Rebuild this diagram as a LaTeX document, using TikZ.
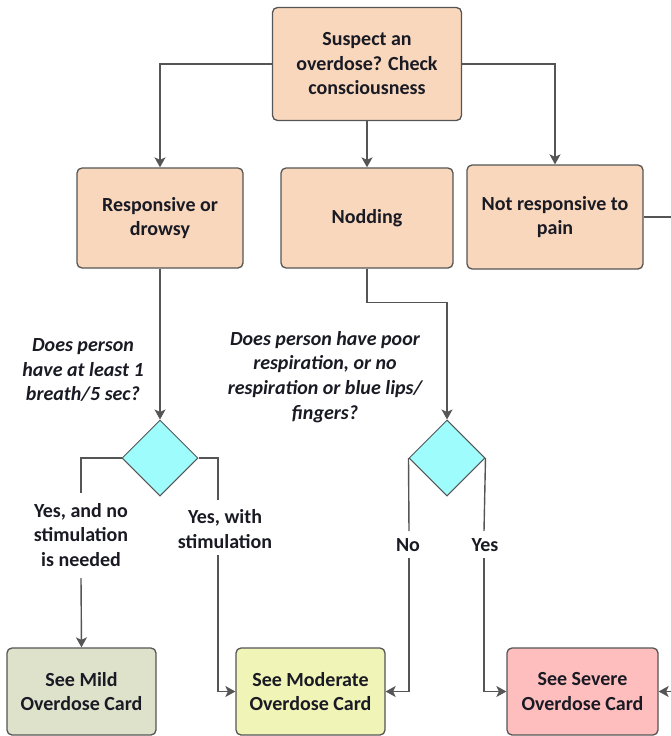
\documentclass[tikz,border=0pt]{standalone}
\usepackage{fontspec}
\setmainfont{Carlito}
\usepackage{xcolor}
\usetikzlibrary{arrows.meta,shapes.geometric,positioning,calc}
\definecolor{peach}{HTML}{F8D7BC}
\definecolor{mildfill}{HTML}{DEE2CB}
\definecolor{modfill}{HTML}{F1F4B7}
\definecolor{sevfill}{HTML}{FFBEBE}
\definecolor{aqua}{HTML}{9FFCFC}
\definecolor{edge}{HTML}{555555}
\definecolor{ink}{HTML}{1A1A24}
\tikzset{>={Stealth[length=10pt,width=11pt,inset=2.5pt]}}
\tikzset{
  stage/.style={draw=edge, line width=1.3pt, rounded corners=5pt, fill=peach, align=center,
    text=ink, font=\fontsize{20}{24.5}\selectfont\bfseries, inner sep=0pt},
  card/.style={stage, minimum width=150pt, minimum height=87pt},
  check/.style={diamond, draw=edge, line width=1pt, fill=aqua, minimum width=76pt,
    minimum height=76pt, inner sep=0pt},
  ask/.style={align=center, text=ink, font=\fontsize{20}{24.8}\selectfont\bfseries\itshape},
  answer/.style={align=center, text=ink, font=\fontsize{20}{24.5}\selectfont\bfseries},
  wire/.style={draw=edge, line width=1.4pt},
}

\begin{document}
\begin{tikzpicture}[x=1pt,y=-1pt]
\useasboundingbox (0,0) rectangle (671,736);
% level 1 and 2
\node[stage, minimum width=189pt, minimum height=113pt] (start) at (367,64) {Suspect an\\overdose? Check\\consciousness};
\node[stage, minimum width=166pt, minimum height=100pt] (resp) at (160,218) {Responsive or\\drowsy};
\node[stage, minimum width=172pt, minimum height=100pt] (nod) at (367,218) {Nodding};
\node[stage, minimum width=176pt, minimum height=104pt] (nopain) at (555,217) {Not responsive to\\pain};
% decisions
\node[check] (chk1) at (160,458) {};
\node[check] (chk2) at (447,458) {};
\node[ask] (ask1) at (83,370) {Does person\\have at least 1\\breath/5 sec?};
\node[ask] (ask2) at (325,377) {Does person have poor\\respiration, or no\\respiration or blue lips/\\fingers?};
% cards
\node[card, fill=mildfill, minimum width=149pt] (mild) at (81.5,691.5) {See Mild\\Overdose Card};
\node[card, fill=modfill, minimum width=149pt] (moder) at (310.5,691.5) {See Moderate\\Overdose Card};
\node[card, fill=sevfill, minimum width=151pt] (severe) at (582.5,691.5) {See Severe\\Overdose Card};
% answers
\node[answer] (yes1) at (81,535) {Yes, and no\\stimulation\\is needed};
\node[answer] (yes2) at (225,529) {Yes, with\\stimulation};
\node[answer] (no3) at (408,545) {No};
\node[answer] (yes4) at (485,545) {Yes};
% free ends
\coordinate (b1a) at (81,493);  \coordinate (b1b) at (81,578);
\coordinate (b2a) at (218,500); \coordinate (b2b) at (218,555);
\coordinate (b3a) at (409,531); \coordinate (b3b) at (409,558);
\coordinate (b4a) at (484,531); \coordinate (b4b) at (484,558);
\coordinate (outright) at (671,217);
\coordinate (inright) at (671,691.5);

\draw[wire,->] (start.west) -| (resp.north);
\draw[wire,->] (start.south) -- (nod.north);
\draw[wire,->] (start.east) -| (nopain.north);
\draw[wire] (nopain.east) -- (outright);
\draw[wire,->] (resp.south) -- (chk1.north);
\draw[wire,->] (nod.south) -- ++(0,34) -| (chk2.north);

\draw[wire] (chk1.west) -| (b1a);
\draw[wire,->] (b1b) -- (mild.north);
\draw[wire] (chk1.east) -| (b2a);
\draw[wire,->] (b2b) |- (moder.west);
\draw[wire] (chk2.west) -- (b3a);
\draw[wire,->] (b3b) |- (moder.east);
\draw[wire] (chk2.east) -- (b4a);
\draw[wire,->] (b4b) |- (severe.west);
\draw[wire,->] (inright) -- (severe.east);
\end{tikzpicture}
\end{document}
